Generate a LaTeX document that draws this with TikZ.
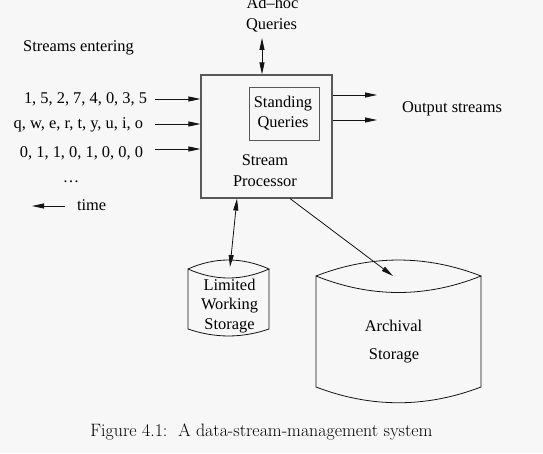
\documentclass[tikz,border=0pt]{standalone}
\usepackage{fontspec}
\setmainfont{Liberation Serif}
\newfontfamily\capfont{Latin Modern Roman}
\usetikzlibrary{arrows.meta}
\tikzset{
  lbl/.style={anchor=base,inner sep=0pt,outer sep=0pt,font=\fontsize{16.4}{20}\selectfont},
  flow/.style={draw=drawColor,line width=0.8pt,-{Triangle[length=12pt,width=5pt]}},
  both/.style={draw=drawColor,line width=0.8pt,{Triangle[length=12pt,width=5pt]}-{Triangle[length=12pt,width=5pt]}},
  store/.style={draw=drawColor,line width=0.8pt}
}
\begin{document}
\begin{tikzpicture}[x=1pt,y=1pt]
\definecolor{fillColor}{RGB}{247,247,247}
\definecolor{drawColor}{RGB}{20,20,20}
\definecolor{boxColor}{gray}{0.35}
\path[use as bounding box,fill=fillColor] (0,0) rectangle (543,453);

% stream processor and its standing queries
\node[draw=boxColor,line width=1.1pt,minimum width=131pt,minimum height=123pt,inner sep=0pt] (proc) at (266.5,316.5) {};
\node[draw=boxColor,line width=0.8pt,minimum width=70pt,minimum height=53pt,inner sep=0pt] (standing) at (284,339.5) {};
\node[lbl] (standing1) at (283,345) {Standing};
\node[lbl] (standing2) at (283,325) {Queries};
\node[lbl] (proc1) at (265,287) {Stream};
\node[lbl] (proc2) at (265,266) {Processor};

% ad-hoc queries
\node[lbl] (adhoc1) at (272.5,444) {Ad--hoc};
\node[lbl] (adhoc2) at (271.5,423) {Queries};
\coordinate (adhocEnd) at (262,415);
\path[both] (adhocEnd) -- (adhocEnd |- proc.north);

% input streams
\node[lbl] (entering) at (78.5,401) {Streams entering};
\node[lbl,anchor=base east] (in1) at (147,349) {1, 5, 2, 7, 4, 0, 3, 5};
\node[lbl,anchor=base east] (in2) at (143,324) {q, w, e, r, t, y, u, i, o};
\node[lbl,anchor=base east] (in3) at (143,295.5) {0, 1, 1, 0, 1, 0, 0, 0};
\node[lbl] (dots) at (71,270) {\ldots};
\node[lbl,anchor=base west] (time) at (77,242) {time};
\coordinate (s1) at (155,354);
\coordinate (s2) at (155,329);
\coordinate (s3) at (155,304);
\path[flow] (s1) -- (s1 -| proc.west);
\path[flow] (s2) -- (s2 -| proc.west);
\path[flow] (s3) -- (s3 -| proc.west);
\coordinate (timeStart) at (65,247);
\coordinate (timeEnd) at (32,247);
\path[flow] (timeStart) -- (timeEnd);

% output streams
\node[lbl] (output) at (452,340) {Output streams};
\coordinate (o1) at (377,358);
\coordinate (o2) at (377,333);
\path[flow] (o1 -| proc.east) -- (o1);
\path[flow] (o2 -| proc.east) -- (o2);

% limited working storage
\path[store] (188,184) .. controls (215,196) and (242,196) .. (269,184)
  .. controls (242,172) and (215,172) .. (188,184) -- (188,124)
  .. controls (215,114.7) and (242,114.7) .. (269,124) -- (269,184);
\node[lbl] (work1) at (229.5,163) {Limited};
\node[lbl] (work2) at (229.5,144) {Working};
\node[lbl] (work3) at (229.5,124) {Storage};
\coordinate (workTop) at (230,186);
\coordinate (workLink) at (237,0);
\path[both] (workLink |- proc.south) -- (workTop);

% archival storage
\path[store] (316,177) .. controls (371,198.3) and (426,198.3) .. (481,177)
  .. controls (426,155) and (371,155) .. (316,177) -- (316,66)
  .. controls (371,45) and (426,45) .. (481,66) -- (481,177);
\node[lbl] (arch1) at (393.5,122) {Archival};
\node[lbl] (arch2) at (394,94) {Storage};
\coordinate (archTop) at (393,177);
\coordinate (archLink) at (290,0);
\path[flow] (archLink |- proc.south) -- (archTop);

% caption
\node[anchor=base,inner sep=0pt,font=\capfont\fontsize{17.9}{20}\selectfont] (caption) at (261.5,17) {Figure 4.1:\ \ A data-stream-management system};
\end{tikzpicture}
\end{document}
